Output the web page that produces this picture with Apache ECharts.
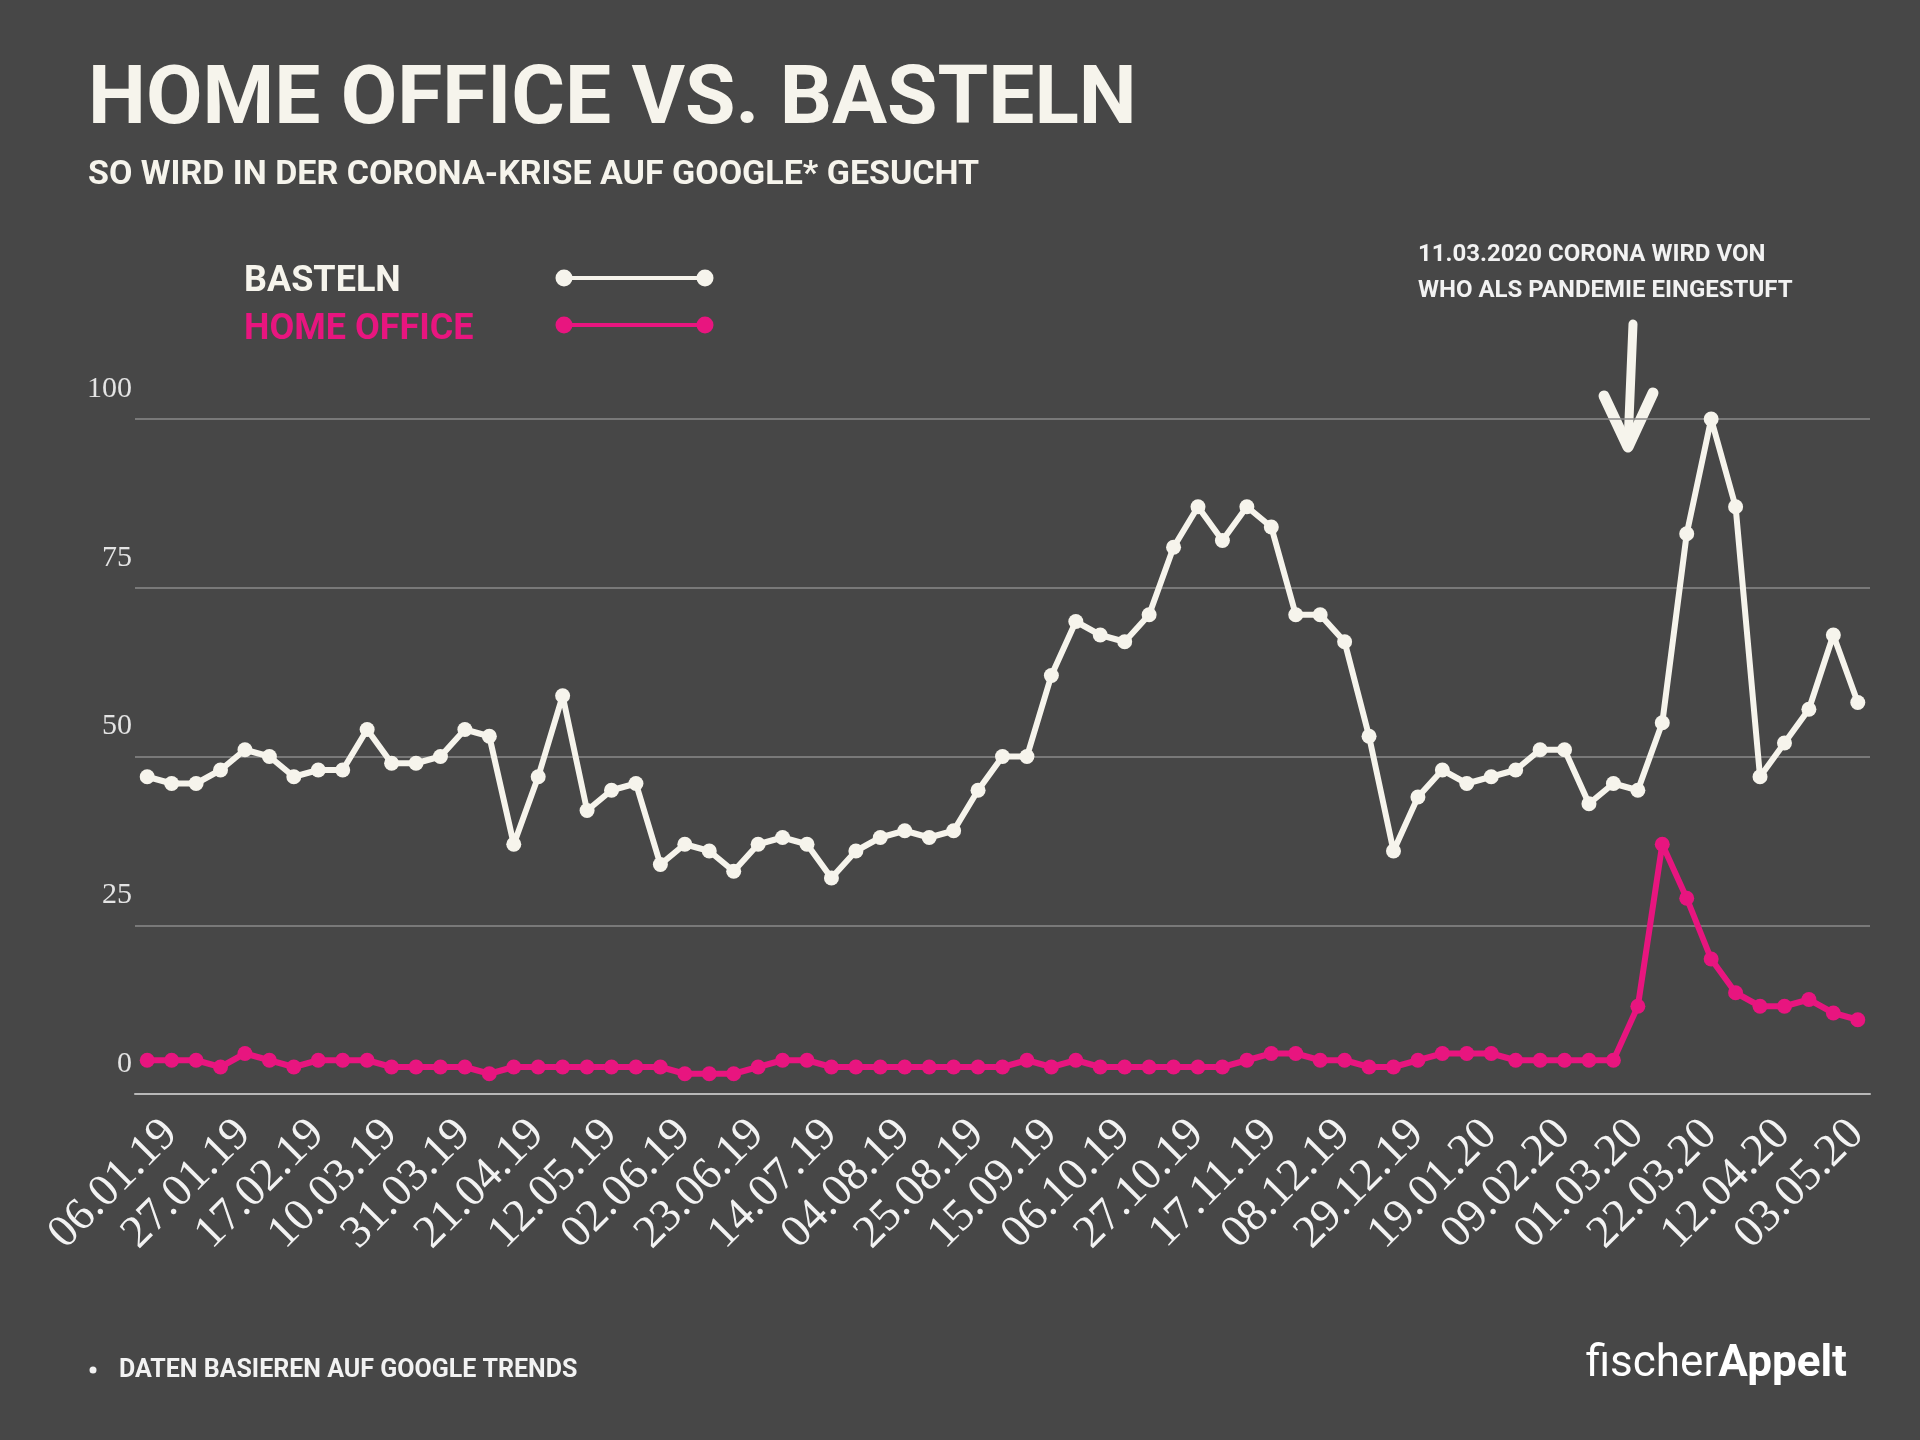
<!DOCTYPE html>
<html>
<head>
<meta charset="utf-8">
<style>
html,body{margin:0;padding:0;background:#474747;}
#chart{width:1920px;height:1440px;}
</style>
<script src="https://cdn.jsdelivr.net/npm/echarts@6/dist/echarts.min.js"></script>
</head>
<body>
<div id="chart"></div>
<script>
// ---- data ----
const categories = [
  '06.01.19','13.01.19','20.01.19','27.01.19','03.02.19','10.02.19','17.02.19','24.02.19',
  '03.03.19','10.03.19','17.03.19','24.03.19','31.03.19','07.04.19','14.04.19','21.04.19',
  '28.04.19','05.05.19','12.05.19','19.05.19','26.05.19','02.06.19','09.06.19','16.06.19',
  '23.06.19','30.06.19','07.07.19','14.07.19','21.07.19','28.07.19','04.08.19','11.08.19',
  '18.08.19','25.08.19','01.09.19','08.09.19','15.09.19','22.09.19','29.09.19','06.10.19',
  '13.10.19','20.10.19','27.10.19','03.11.19','10.11.19','17.11.19','24.11.19','01.12.19',
  '08.12.19','15.12.19','22.12.19','29.12.19','05.01.20','12.01.20','19.01.20','26.01.20',
  '02.02.20','09.02.20','16.02.20','23.02.20','01.03.20','08.03.20','15.03.20','22.03.20',
  '29.03.20','05.04.20','12.04.20','19.04.20','26.04.20','03.05.20','10.05.20'
];
const basteln = [
  47,46,46,48,51,50,47,48,48,54,49,49,50,54,53,37,47,59,42,45,46,34,37,36,
  33,37,38,37,32,36,38,39,38,39,45,50,50,62,70,68,67,71,81,87,82,87,84,71,
  71,67,53,36,44,48,46,47,48,51,51,43,46,45,55,83,100,87,47,52,57,68,58
];
const homeOffice = [
  5,5,5,4,6,5,4,5,5,5,4,4,4,4,3,4,4,4,4,4,4,4,3,3,
  3,4,5,5,4,4,4,4,4,4,4,4,5,4,5,4,4,4,4,4,4,5,6,6,
  5,5,4,4,5,6,6,6,5,5,5,5,5,13,37,29,20,15,13,13,14,12,11
];
const seriesNames = ['BASTELN', 'HOME OFFICE'];
const titleText = 'HOME OFFICE VS. BASTELN';
const subtitleText = 'SO WIRD IN DER CORONA-KRISE AUF GOOGLE* GESUCHT';
const noteLines = ['11.03.2020 CORONA WIRD VON', 'WHO ALS PANDEMIE EINGESTUFT'];
const footnote = 'DATEN BASIEREN AUF GOOGLE TRENDS';

// ---- style ----
const BG = '#474747';
const WHITE = '#f6f4ec';
const PINK = '#e8157f';
const TEXT = '#f2f2f2';

const chart = echarts.init(document.getElementById('chart'), null, {renderer: 'canvas'});

const gridLeft = 135, gridRight = 50, gridTop = 419, gridHeight = 675;
const labelShiftX = 7;

function legendItem(y, ty, name, color) {
  return [
    {type: 'text', x: 244, y: ty, style: {text: name, fill: color, font: 'bold 36px Roboto', verticalAlign: 'middle'}},
    {type: 'line', shape: {x1: 564, y1: y, x2: 705, y2: y}, style: {stroke: color, lineWidth: 4}},
    {type: 'circle', shape: {cx: 564, cy: y, r: 8.5}, style: {fill: color}},
    {type: 'circle', shape: {cx: 705, cy: y, r: 8.5}, style: {fill: color}}
  ];
}

const option = {
  backgroundColor: BG,
  animation: false,
  grid: [
    {left: gridLeft, right: gridRight, top: gridTop, height: gridHeight},
    {left: gridLeft + labelShiftX, right: gridRight - labelShiftX, top: gridTop, height: gridHeight}
  ],
  xAxis: [
    {
      type: 'category', gridIndex: 0, data: categories, boundaryGap: true,
      axisLine: {show: true, lineStyle: {color: '#b8b8b8', width: 2}},
      axisTick: {show: false},
      axisLabel: {show: false},
      splitLine: {show: false}
    },
    {
      type: 'category', gridIndex: 1, data: categories, boundaryGap: true,
      axisLine: {show: false},
      axisTick: {show: false},
      splitLine: {show: false},
      axisLabel: {
        interval: 2, rotate: 45, margin: 17,
        fontFamily: 'Liberation Serif', fontSize: 46, color: TEXT,
        align: 'right', verticalAlign: 'top'
      }
    }
  ],
  yAxis: [
    {
      type: 'value', gridIndex: 0, min: 0, max: 100, interval: 25,
      axisLine: {show: false}, axisTick: {show: false},
      splitLine: {show: true, lineStyle: {color: '#8a8a8a', width: 1.5}},
      axisLabel: {
        margin: 3, fontFamily: 'Liberation Serif', fontSize: 30, color: '#e4e4e4',
        align: 'right', verticalAlign: 'bottom', lineHeight: 60
      }
    },
    {type: 'value', gridIndex: 1, min: 0, max: 100, show: false}
  ],
  series: [
    {
      name: seriesNames[1], type: 'line', xAxisIndex: 0, yAxisIndex: 0,
      data: homeOffice, symbol: 'circle', symbolSize: 15,
      lineStyle: {color: PINK, width: 6}, itemStyle: {color: PINK}, z: 3
    },
    {
      name: seriesNames[0], type: 'line', xAxisIndex: 0, yAxisIndex: 0,
      data: basteln, symbol: 'circle', symbolSize: 15,
      lineStyle: {color: WHITE, width: 6}, itemStyle: {color: WHITE}, z: 4
    }
  ],
  graphic: [
    {type: 'text', x: 88, y: 102, style: {text: titleText, fill: WHITE, font: 'bold 82px Roboto', verticalAlign: 'middle'}},
    {type: 'text', x: 88, y: 175, style: {text: subtitleText, fill: WHITE, font: 'bold 34px Roboto', verticalAlign: 'middle'}},
    ...legendItem(278, 282, seriesNames[0], WHITE),
    ...legendItem(325, 330, seriesNames[1], PINK),
    {type: 'text', x: 1418, y: 255, style: {text: noteLines[0], fill: TEXT, font: 'bold 24px Roboto', verticalAlign: 'middle'}},
    {type: 'text', x: 1418, y: 291, style: {text: noteLines[1], fill: TEXT, font: 'bold 24px Roboto', verticalAlign: 'middle'}},
    {type: 'polyline', shape: {points: [[1633, 324], [1628, 444]]}, style: {stroke: WHITE, lineWidth: 9, lineCap: 'round', lineJoin: 'round', fill: null}},
    {type: 'polyline', shape: {points: [[1604, 396], [1628, 447], [1653, 393]]}, style: {stroke: WHITE, lineWidth: 11, lineCap: 'round', lineJoin: 'round', fill: null}},
    {type: 'circle', shape: {cx: 93, cy: 1370, r: 3.5}, style: {fill: TEXT}},
    {type: 'text', x: 119, y: 1371, style: {text: footnote, fill: TEXT, font: 'bold 25px Roboto', verticalAlign: 'middle'}},
    {type: 'text', x: 1847, y: 1365, style: {
      text: '{a|fischer}{b|Appelt}', align: 'right', verticalAlign: 'middle',
      rich: {
        a: {fontFamily: 'Roboto', fontWeight: 'normal', fontSize: 44, fill: '#ffffff', color: '#ffffff'},
        b: {fontFamily: 'Roboto', fontWeight: 'bold', fontSize: 44, fill: '#ffffff', color: '#ffffff'}
      }
    }}
  ]
};
chart.setOption(option);
</script>
</body>
</html>
